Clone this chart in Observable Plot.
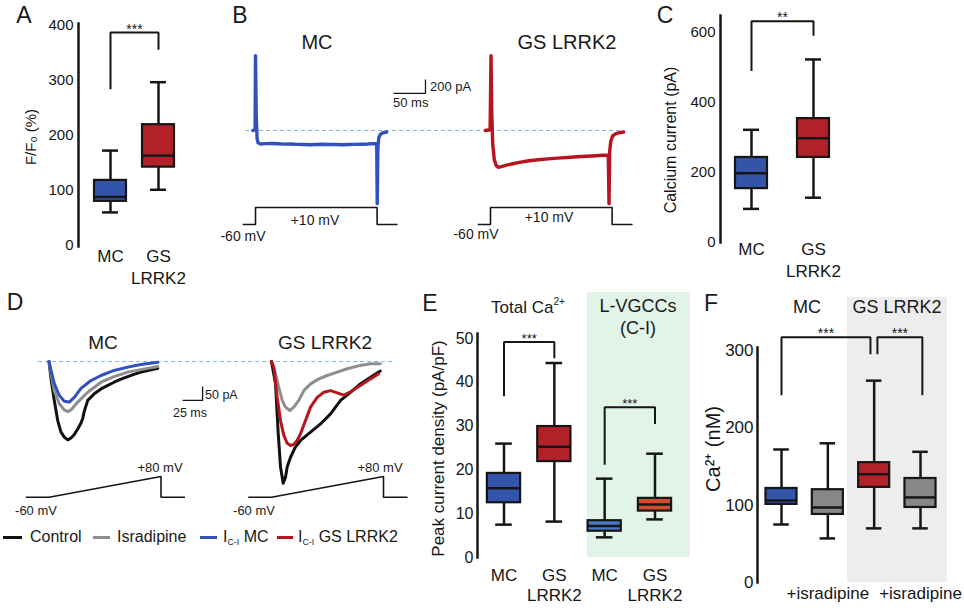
<!DOCTYPE html>
<html><head><meta charset="utf-8">
<script src="https://cdn.jsdelivr.net/npm/d3@7"></script>
<script src="https://cdn.jsdelivr.net/npm/@observablehq/plot@0.6"></script>
<style>
body{margin:0;background:#fff;}
#root{position:relative;width:964px;height:608px;overflow:hidden;background:#fff;font-family:"Liberation Sans",Arial,Helvetica,sans-serif;color:#1a1a1a;}
.lbl{position:absolute;white-space:nowrap;transform:translate(-50%,-50%);line-height:1;}
.bg{position:absolute;}
sup{font-size:0.6em;vertical-align:0.7em;line-height:0;}
sub{font-size:0.55em;vertical-align:-0.35em;line-height:0;}
</style></head><body><div id="root"></div><script>
// ---------------- DATA ----------------
// Panel A  (F/F0 %)
const aCategories = ["MC", "GS\nLRRK2"];
const aLow    = [60, 101];
const aQ1     = [80, 142];
const aMedian = [88, 163];
const aQ3     = [118, 219];
const aHigh   = [172, 296];
const aTicks  = [0, 100, 200, 300, 400];
const aBrackets = [{from: 0, to: 1, left: 283, top: 386, right: 355, label: "***"}];

// Panel C  (calcium current pA)
const cCategories = ["MC", "GS\nLRRK2"];
const cLow    = [96, 128];
const cQ1     = [154, 243];
const cMedian = [198, 298];
const cQ3     = [243, 354];
const cHigh   = [322, 523];
const cTicks  = [0, 200, 400, 600];
const cBrackets = [{from: 0, to: 1, left: 490, top: 632, right: 591, label: "**"}];

// Panel E  (peak current density pA/pF)
const eCategories = ["MC", "GS\nLRRK2", "MC", "GS\nLRRK2"];
const eLow    = [7.5, 8.2, 4.6, 8.7];
const eQ1     = [12.5, 21.9, 6.0, 10.6];
const eMedian = [15.8, 25.3, 7.2, 12.1];
const eQ3     = [19.2, 29.9, 8.4, 13.5];
const eHigh   = [26.0, 44.4, 18.0, 23.7];
const eTicks  = [0, 10, 20, 30, 40, 50];
const eBrackets = [
  {from: 0, to: 1, left: 36.8, top: 49.2, right: 45.5, label: "***"},
  {from: 2, to: 3, left: 21.2, top: 34.3, right: 30.5, label: "***"}
];

// Panel F  (Ca2+ nM)
const fCategories = ["", "+isradipine", "", "+isradipine"];
const fLow    = [75, 57, 70, 70];
const fQ1     = [101, 88, 123, 97];
const fMedian = [106, 97, 140, 110];
const fQ3     = [121.6, 120, 155, 134.5];
const fHigh   = [172, 180, 261, 169];
const fTicks  = [0, 100, 200, 300];
const fBrackets = [
  {from: 0, to: 1.92, left: 242, top: 317, right: 295, label: "***"},
  {from: 2.07, to: 3.04, left: 295, top: 317, right: 242, label: "***"}
];

// Panel B traces (ms from step onset, pA)
const bMcTime    = [-4, -0.6, 0, 1.2, 2.5, 4, 8, 15, 25, 35, 45, 55, 65, 75, 85, 95, 105, 115, 125, 135, 145, 155, 165, 175, 183, 189.4, 190.2, 191.2, 192.5, 195, 199, 205];
const bMcCurrent = [0, 15, 1070, 200, -120, -175, -192, -188, -186, -190, -195, -192, -198, -200, -203, -200, -197, -201, -199, -203, -200, -198, -196, -193, -188, -190, -1045, -260, -110, -55, -32, -22];
const bGsTime    = [-8, -0.6, 0.8, 2, 3.5, 6, 9, 12, 17, 25, 35, 45, 60, 75, 90, 105, 120, 135, 150, 165, 175, 184, 185.2, 186.2, 188, 191, 196, 203, 208];
const bGsCurrent = [0, 10, 1070, 250, -200, -420, -500, -525, -515, -495, -475, -455, -432, -418, -405, -394, -385, -376, -368, -360, -354, -350, -1045, -300, -150, -75, -45, -28, -22];
const bStepTime    = [-20, 0, 0, 190, 190, 222];
const bStepVoltage = [-60, -60, 10, 10, -60, -60];
const bScaleBarTime    = [215.6, 265.6, 265.6];
const bScaleBarCurrent = [529, 529, 729];

// Panel D traces (ms from ramp onset, pA)
const dMcBlackTime = [0, 2.5, 6.6, 10.9, 15, 19.1, 23.4, 27.5, 31.6, 35.9, 40, 42, 44.1, 48.4, 56.6, 65, 73, 81.3, 90, 98.4, 107, 115, 125, 136];
const dMcBlack     = [0, -62, -139, -211, -252, -270, -280, -273, -261, -241, -220, -205, -178, -139, -115, -98, -86, -74, -63, -54, -45, -38, -31, -24];
const dMcGrayTime  = [0, 2.5, 6.6, 12.9, 19.1, 23.4, 27.5, 35.9, 48.4, 65, 81.3, 98.4, 115, 136];
const dMcGray      = [0, -44, -104, -151, -173, -179, -173, -145, -110, -74, -54, -38, -29, -18];
const dMcBlueTime  = [0, 2.5, 6.6, 12.9, 19.1, 25.4, 31.6, 40, 52.5, 65, 81.3, 98.4, 115, 136];
const dMcBlue      = [0, -32, -79, -121, -142, -145, -128, -96, -68, -50, -32, -20, -11, -2.5];
const dGsBlackTime = [0, 5, 8.4, 11.3, 14.6, 17.5, 19.6, 23.8, 30, 36.3, 48.8, 61.3, 73.8, 86.3, 98.8, 111, 123.8, 136];
const dGsBlack     = [0, -79, -257, -377, -435, -413, -377, -342, -305, -282, -252, -223, -187, -139, -110, -80, -56, -34];
const dGsRedTime   = [0, 2.9, 7.1, 11.3, 15.4, 19.6, 23.8, 27.9, 32.1, 36.3, 42.5, 48.8, 57.1, 65.4, 73.8, 82.1, 90.4, 98.8, 111, 123.8, 134];
const dGsRed       = [0, -20, -128, -211, -264, -292, -300, -296, -282, -258, -211, -163, -128, -110, -104, -112, -120, -108, -86, -62, -44];
const dGsGrayTime  = [0, 5, 9.1, 13.4, 17.5, 22.9, 27.9, 34.1, 40.4, 48.8, 59.1, 69.6, 82.1, 94.6, 111, 123.8, 136];
const dGsGray      = [0, -44, -92, -139, -163, -175, -163, -139, -104, -80, -62, -50, -38, -26, -14, -8, -8];
const dRampTime    = [-29, 0, 140, 140, 170];
const dRampVoltage = [-60, -60, 80, -60, -60];
const dScaleBarTime    = [167, 192, 192];
const dScaleBarCurrent = [-139, -139, -89];

// ---------------- STYLE ----------------
const FONT = '"Liberation Sans", Arial, Helvetica, sans-serif';
const INK = "#161616";
const BLUE = "#3453ab", RED = "#b2202a", GRAY = "#878787", LBLUE = "#4a77c4", ORANGE = "#cf4d2e";
const T_BLUE = "#3152bd", T_RED = "#b8141f", T_GRAY = "#8e8e8e", T_BLACK = "#111";
const DASH = "#86b6e0";

const root = document.getElementById("root");
function bg(x, y, w, h, color) {
  const d = document.createElement("div"); d.className = "bg";
  Object.assign(d.style, {left: x + "px", top: y + "px", width: w + "px", height: h + "px", background: color});
  root.appendChild(d);
}
function label(html, x, y, size, align) {
  const d = document.createElement("div"); d.className = "lbl";
  d.style.left = x + "px"; d.style.top = y + "px"; d.style.fontSize = size + "px";
  if (align === "left") d.style.transform = "translate(0,-50%)";
  d.innerHTML = html; root.appendChild(d);
}
const base = {
  width: 964, height: 608,
  style: {position: "absolute", left: "0px", top: "0px", background: "transparent", overflow: "visible", fontFamily: FONT, color: INK}
};
function add(p) { root.appendChild(p); }
const zip = (xs, ys) => xs.map((t, k) => ({t, v: ys[k]}));

function rowsOf(cats, lo, q1, med, q3, hi, colors) {
  return cats.map((c, i) => ({i, cat: c, lo: lo[i], q1: q1[i], med: med[i], q3: q3[i], hi: hi[i], color: colors[i]}));
}
function boxMarks(rows, hw) {
  const s = {stroke: INK, strokeWidth: 2.5};
  return [
    Plot.ruleX(rows, {x: "i", y1: "lo", y2: "hi", ...s}),
    Plot.ruleY(rows, {y: "hi", x1: d => d.i - hw / 2, x2: d => d.i + hw / 2, ...s}),
    Plot.ruleY(rows, {y: "lo", x1: d => d.i - hw / 2, x2: d => d.i + hw / 2, ...s}),
    Plot.rect(rows, {x1: d => d.i - hw, x2: d => d.i + hw, y1: "q1", y2: "q3", fill: "color", stroke: INK, strokeWidth: 2.2}),
    Plot.ruleY(rows, {y: "med", x1: d => d.i - hw, x2: d => d.i + hw, ...s})
  ];
}
function bracketMarks(brs, fs) {
  const pts = brs.flatMap((b, k) => [
    {k, x: b.from, y: b.left}, {k, x: b.from, y: b.top}, {k, x: b.to, y: b.top}, {k, x: b.to, y: b.right}
  ]);
  return [
    Plot.line(pts, {x: "x", y: "y", z: "k", stroke: INK, strokeWidth: 2, strokeLinejoin: "miter", strokeLinecap: "butt"}),
    Plot.text(brs, {x: d => (d.from + d.to) / 2, y: "top", text: "label", lineAnchor: "bottom", dy: 1, fontSize: fs, fill: INK})
  ];
}
function boxPlot(o) {
  return Plot.plot({
    ...base,
    marginLeft: o.axisX, marginTop: o.top, marginBottom: 608 - o.bottom, marginRight: 0,
    x: {type: "linear", domain: o.xDomain, range: o.xRange},
    y: {domain: o.yDomain, range: o.yRange},
    color: {type: "identity"},
    marks: [
      Plot.frame({anchor: "left", stroke: INK, strokeWidth: 2.5}),
      Plot.axisY({anchor: "left", ticks: o.ticks, tickSize: 0, tickPadding: o.tickPad, fontSize: o.tickFont, label: null}),
      Plot.axisX({anchor: "bottom", ticks: o.cats.map((c, i) => i), tickFormat: i => o.cats[i], tickSize: 0,
                  tickPadding: o.catPad, fontSize: 17, lineHeight: o.lineHeight, label: null}),
      Plot.text([o.ylabel], {text: d => d, frameAnchor: "left", textAnchor: "middle", lineAnchor: "middle", rotate: -90,
                             dx: o.ylDx, dy: o.ylDy, fontSize: o.ylFont, fill: INK}),
      ...boxMarks(o.rows, o.hw),
      ...bracketMarks(o.brackets, o.starFont)
    ]
  });
}

// ---------------- BACKGROUNDS ----------------
bg(587, 292, 103, 265, "#e2f3e8");
bg(847, 297, 100, 285, "#ededed");

// ---------------- PANEL A ----------------
add(boxPlot({
  axisX: 78, top: 23, bottom: 246, xDomain: [0, 1], xRange: [110, 158], yDomain: [0, 400], yRange: [245, 24.3],
  ticks: aTicks, tickPad: 5, tickFont: 15, cats: aCategories, catPad: 0, lineHeight: 1.28,
  ylabel: "F/F₀ (%)", ylDx: -47, ylDy: 2, ylFont: 15,
  rows: rowsOf(aCategories, aLow, aQ1, aMedian, aQ3, aHigh, [BLUE, RED]), hw: 0.333,
  brackets: aBrackets, starFont: 14
}));

// ---------------- PANEL C ----------------
add(boxPlot({
  axisX: 720, top: 15, bottom: 242, xDomain: [0, 1], xRange: [751, 813], yDomain: [0, 600], yRange: [242, 32],
  ticks: cTicks, tickPad: 5, tickFont: 15, cats: cCategories, catPad: -3, lineHeight: 1.28,
  ylabel: "Calcium current (pA)", ylDx: -50, ylDy: 11, ylFont: 16,
  rows: rowsOf(cCategories, cLow, cQ1, cMedian, cQ3, cHigh, [BLUE, RED]), hw: 0.258,
  brackets: cBrackets, starFont: 14
}));

// ---------------- PANEL E ----------------
add(boxPlot({
  axisX: 477, top: 333, bottom: 557, xDomain: [0, 3], xRange: [503.5, 654.5], yDomain: [0, 50], yRange: [557, 338],
  ticks: eTicks, tickPad: 4, tickFont: 16, cats: eCategories, catPad: 9, lineHeight: 1.18,
  ylabel: "Peak current density (pA/pF)", ylDx: -39, ylDy: 3, ylFont: 17,
  rows: rowsOf(eCategories, eLow, eQ1, eMedian, eQ3, eHigh, [BLUE, RED, LBLUE, ORANGE]), hw: 0.33,
  brackets: eBrackets, starFont: 13
}));

// ---------------- PANEL F ----------------
add(boxPlot({
  axisX: 757, top: 347, bottom: 582, xDomain: [0, 3], xRange: [781, 920], yDomain: [0, 300], yRange: [582, 350],
  ticks: fTicks, tickPad: 4, tickFont: 17, cats: fCategories, catPad: 2, lineHeight: 1.2,
  ylabel: "Ca²⁺ (nM)", ylDx: -44, ylDy: -16, ylFont: 20,
  rows: rowsOf(fCategories, fLow, fQ1, fMedian, fQ3, fHigh, [BLUE, GRAY, RED, GRAY]), hw: 0.335,
  brackets: fBrackets, starFont: 14
}));

// ---------------- PANEL B ----------------
function tracePlot(x0, sx, y0, sy, marks) {
  return Plot.plot({
    ...base,
    x: {domain: [0, 100], range: [x0, x0 + 100 * sx], axis: null},
    y: {domain: [0, 100], range: [y0, y0 - 100 * sy], axis: null},
    marks
  });
}
const lineOpts = (stroke, w) => ({x: "t", y: "v", stroke, strokeWidth: w, strokeLinejoin: "round"});
const protoOpts = {x: "t", y: "v", stroke: INK, strokeWidth: 1.6, strokeLinejoin: "miter", strokeLinecap: "butt"};

add(tracePlot(255, 0.64, 130, 0.07, [
  Plot.ruleY([0], {x1: -15.6, x2: 575, stroke: DASH, strokeWidth: 1.1, strokeDasharray: "4,3"}),
  Plot.line(zip(bMcTime, bMcCurrent), lineOpts(T_BLUE, 3.4)),
  Plot.line(zip(bScaleBarTime, bScaleBarCurrent), {...protoOpts, strokeWidth: 1.3})
]));
add(tracePlot(490, 0.64, 130, 0.07, [
  Plot.line(zip(bGsTime, bGsCurrent), lineOpts(T_RED, 3.4))
]));
add(Plot.plot({...base, x: {domain: [0, 100], range: [255, 319], axis: null}, y: {domain: [-60, 10], range: [224, 207], axis: null},
  marks: [Plot.line(zip(bStepTime, bStepVoltage), protoOpts)]}));
add(Plot.plot({...base, x: {domain: [0, 100], range: [490, 554], axis: null}, y: {domain: [-60, 10], range: [224, 207], axis: null},
  marks: [Plot.line(zip(bStepTime, bStepVoltage), protoOpts)]}));

// ---------------- PANEL D ----------------
add(tracePlot(48.5, 0.8, 361, 0.28, [
  Plot.ruleY([0], {x1: -13, x2: 431, stroke: DASH, strokeWidth: 1.1, strokeDasharray: "4,3"}),
  Plot.line(zip(dMcBlackTime, dMcBlack), lineOpts(T_BLACK, 3)),
  Plot.line(zip(dMcGrayTime, dMcGray), lineOpts(T_GRAY, 3)),
  Plot.line(zip(dMcBlueTime, dMcBlue), lineOpts(T_BLUE, 3)),
  Plot.line(zip(dScaleBarTime, dScaleBarCurrent), {...protoOpts, strokeWidth: 1.3})
]));
add(tracePlot(271, 0.8, 361, 0.28, [
  Plot.line(zip(dGsGrayTime, dGsGray), lineOpts(T_GRAY, 3)),
  Plot.line(zip(dGsBlackTime, dGsBlack), lineOpts(T_BLACK, 3)),
  Plot.line(zip(dGsRedTime, dGsRed), lineOpts(T_RED, 3))
]));
add(Plot.plot({...base, x: {domain: [0, 100], range: [48.5, 128.5], axis: null}, y: {domain: [-60, 80], range: [496.7, 476], axis: null},
  marks: [Plot.line(zip(dRampTime, dRampVoltage), protoOpts)]}));
add(Plot.plot({...base, x: {domain: [0, 100], range: [271, 351], axis: null}, y: {domain: [-60, 80], range: [496.7, 476], axis: null},
  marks: [Plot.line(zip(dRampTime, dRampVoltage), protoOpts)]}));

// ---------------- TEXT ----------------
label("A", 24, 14.5, 23); label("B", 240, 14.5, 23); label("C", 665, 14.5, 23);
label("D", 15, 302, 23); label("E", 430, 303, 23); label("F", 711, 303, 23);
label("MC", 317, 42, 20); label("GS LRRK2", 567, 42, 20);
label("+10 mV", 315, 220, 14); label("+10 mV", 549, 217, 14);
label("-60 mV", 243, 236, 14); label("-60 mV", 476, 234, 14);
label("200 pA", 430, 86, 13, "left"); label("50 ms", 393, 102, 13, "left");
label("MC", 103, 342, 19); label("GS LRRK2", 325, 342, 19);
label("+80 mV", 160, 467, 13); label("+80 mV", 380, 467, 13);
label("-60 mV", 36, 510, 13); label("-60 mV", 254, 510, 13);
label("50 pA", 205, 395, 12.5, "left"); label("25 ms", 190, 413, 12.5);
label("Total Ca<sup>2+</sup>", 528, 307, 17); label("L-VGCCs", 638, 306, 18); label("(C-I)", 638, 328, 18);
label("MC", 807, 307, 18); label("GS LRRK2", 897, 307, 18);

// legend
const legendItems = [
  {color: T_BLACK, x0: 3, x1: 22, text: "Control", tx: 30},
  {color: T_GRAY, x0: 93, x1: 110, text: "Isradipine", tx: 117},
  {color: T_BLUE, x0: 200, x1: 217, text: "I<sub>C-I</sub> MC", tx: 223},
  {color: T_RED, x0: 277, x1: 293, text: "I<sub>C-I</sub> GS LRRK2", tx: 298}
];
legendItems.forEach(it => {
  bg(it.x0, 536, it.x1 - it.x0, 2.6, it.color);
  label(it.text, it.tx, 537, 16, "left");
});
</script></body></html>
